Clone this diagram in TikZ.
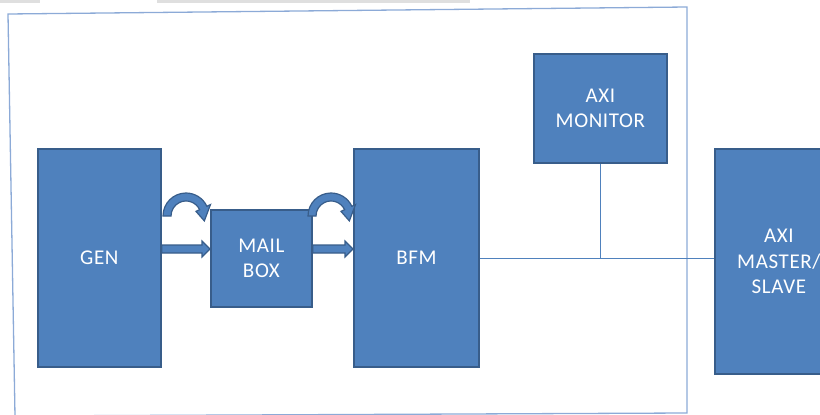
\documentclass[tikz,border=0pt]{standalone}
\usepackage{fontspec}
\setmainfont{Carlito}
\definecolor{boxfill}{RGB}{79,129,189}
\definecolor{boxedge}{RGB}{56,93,138}
\definecolor{framec}{RGB}{140,170,215}
\definecolor{linec}{RGB}{79,129,189}
\begin{document}
\begin{tikzpicture}[x=1pt,y=-1pt,
  blk/.style={draw=boxedge,fill=boxfill,line width=1.8pt,text=white,align=center,
    font=\fontsize{21}{25.5}\selectfont\addfontfeature{LetterSpace=3}, inner sep=0pt,anchor=north west},
  barrow/.style={draw=boxedge,fill=boxfill,line width=1.2pt,line join=miter},
  conn/.style={draw=linec,line width=1pt}]
\useasboundingbox (0,0) rectangle (820,415);
\begin{scope}
\clip (0,0) rectangle (820,415);
% top gray strip
\fill[gray!25] (0,0) rectangle (40,3);
\fill[gray!25] (157,0) rectangle (470,3);
% outer frame
\draw[framec,line width=1.3pt] (8,14) -- (687,7) -- (687,413) -- (15,416) -- cycle;
% boxes
\node[blk,minimum width=123pt,minimum height=218pt] (gen) at (37,148) {GEN};
\node[blk,minimum width=101pt,minimum height=97pt] (mail) at (210,209) {MAIL\\BOX};
\node[blk,minimum width=125pt,minimum height=218pt] (bfm) at (353,148) {BFM};
\node[blk,minimum width=133pt,minimum height=109pt] (mon) at (533,53) {AXI\\MONITOR};
\node[blk,minimum width=128pt,minimum height=225pt] (ms) at (714,148) {AXI\\MASTER/\\SLAVE};
% connectors
\coordinate (j) at (600,258);
\draw[conn] (bfm.east |- j) -- (ms.west |- j);
\draw[conn] (mon.south -| j) -- (j);
% straight block arrows
\draw[barrow] (gen.east |- 0,245) -- (202,245) -- (202,241) -- (mail.west |- 0,249) -- (202,257) -- (202,253) -- (gen.east |- 0,253) -- cycle;
\draw[barrow] (mail.east |- 0,245) -- (345,245) -- (345,241) -- (bfm.west |- 0,249) -- (345,257) -- (345,253) -- (mail.east |- 0,253) -- cycle;
% curved block arrows
\begin{scope}[shift={(186,216)}]
\draw[barrow] (180:23) arc[start angle=180,end angle=335,radius=23] -- (335:27) -- (15:19) -- (335:11) -- (335:15) arc[start angle=335,end angle=180,radius=15] -- cycle;
\end{scope}
\begin{scope}[shift={(331,216)}]
\draw[barrow] (180:23) arc[start angle=180,end angle=335,radius=23] -- (335:27) -- (15:19) -- (335:11) -- (335:15) arc[start angle=335,end angle=180,radius=15] -- cycle;
\end{scope}
\end{scope}
\end{tikzpicture}
\end{document}
